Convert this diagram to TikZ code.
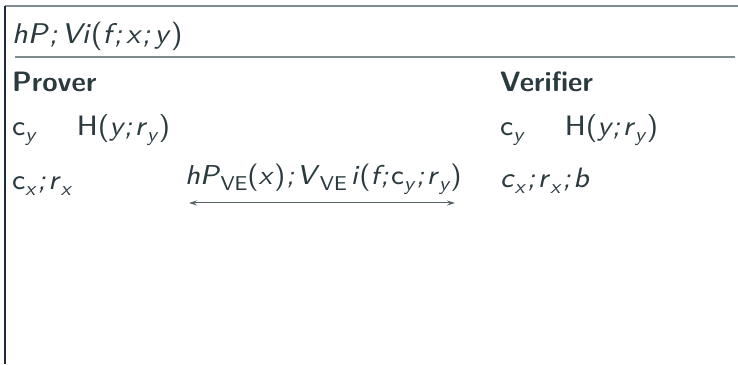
\documentclass[tikz,border=0pt]{standalone}
\usepackage{fontspec}
\setsansfont{lmsans8-regular.otf}[ItalicFont=lmsans8-oblique.otf,BoldFont=lmsans10-bold.otf]
\usetikzlibrary{arrows.meta}
\definecolor{txt}{HTML}{2B3A3F}
\definecolor{rule}{HTML}{7F8C8D}
\definecolor{frame}{HTML}{1E2A38}
\newcommand{\dn}[1]{\raisebox{-0.2em}{\fontsize{20}{24}\selectfont #1}}
\newcommand{\sm}{\hspace{1pt}\textit{;}\hspace{2.5pt}}
\newcommand{\tsm}{\hspace{2pt}\textit{;}\hspace{4pt}}
\begin{document}
\begin{tikzpicture}[x=1pt,y=1pt,
  lbl/.style={anchor=base west,inner sep=0pt,text=txt,font=\sffamily\fontsize{28}{32}\selectfont},
  ttl/.style={lbl,font=\sffamily\fontsize{28.5}{32}\selectfont},
  prt/.style={lbl,font=\sffamily\fontsize{27.3}{32}\selectfont},
  hd/.style={lbl,font=\sffamily\bfseries\fontsize{28}{32}\selectfont},
  rl/.style={draw=rule,line width=1.5pt},
  msg/.style={draw=txt!80,line width=1pt,{Stealth[length=8pt,width=5pt]}-{Stealth[length=8pt,width=5pt]}}]
\useasboundingbox (0,0) rectangle (738,364);
\coordinate (tl) at (5,358);
\coordinate (tr) at (738,358);
\coordinate (bl) at (5,0);
\coordinate (ml) at (15,307);
\coordinate (mr) at (735,307);
\draw[rule,line width=1.5pt] (tr) -- (tl);
\draw[frame,line width=1.2pt] (tl) -- (bl);
\draw[rl] (ml) -- (mr);
\node[ttl] (title) at (12,320) {\textit{hP\tsm Vi}(\textit{f\tsm x\tsm y})};
\node[hd] (prover) at (12,272) {Prover};
\node[hd] (verifier) at (500,272) {Verifier};
\node[lbl] (pcy) at (12,228) {c\dn{\textit{y}}\hspace{40pt}H(\textit{y\sm r}\dn{\textit{y}})};
\node[lbl] (vcy) at (500,228) {c\dn{\textit{y}}\hspace{40pt}H(\textit{y\sm r}\dn{\textit{y}})};
\node[lbl] (pcx) at (12,174) {c\dn{\textit{x}}\sm\textit{r}\dn{\textit{x}}};
\node[lbl] (vcx) at (500,176) {\textit{c}\dn{\textit{x}}\sm\textit{r}\dn{\textit{x}}\sm\textit{b}};
\node[prt] (proto) at (185,179) {\textit{hP}\dn{VE}(\textit{x})\sm\textit{V}\dn{VE}\hspace{4pt}\textit{i}(\textit{f\sm}c\dn{\textit{y}}\sm\textit{r}\dn{\textit{y}})};
\coordinate (al) at (189,161);
\coordinate (ar) at (455,161);
\draw[msg] (al) -- (ar);
\end{tikzpicture}
\end{document}
